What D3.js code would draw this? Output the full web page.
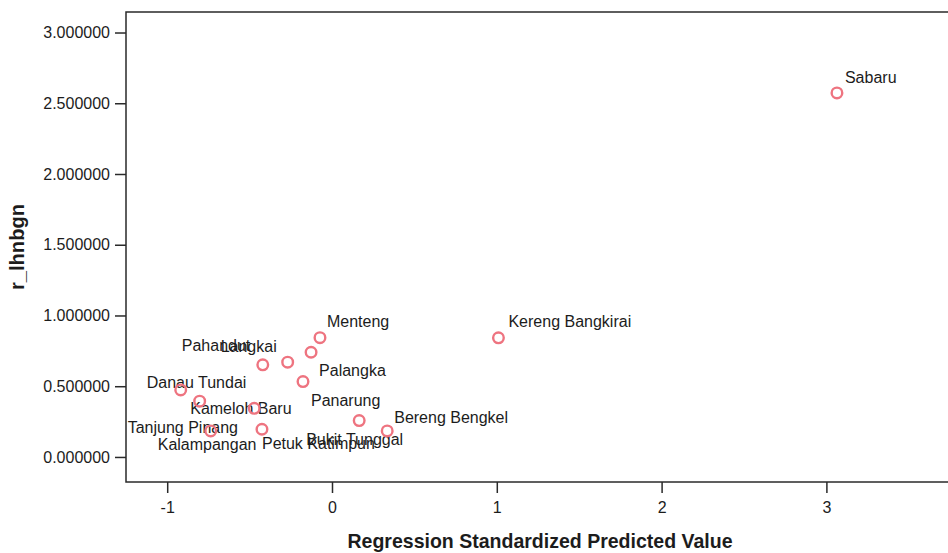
<!DOCTYPE html>
<html>
<head>
<meta charset="utf-8">
<script src="https://cdn.jsdelivr.net/npm/d3@7"></script>
<style>
  body { margin: 0; background: #fff; }
  svg { display: block; }
</style>
</head>
<body>
<svg id="chart" width="948" height="553"></svg>
<script>
// Sub-districts, their standardized predicted value and the r_lhnbgn residual
const places = [
  "Sabaru", "Kereng Bangkirai", "Menteng", "Palangka", "Langkai", "Pahandut", "Panarung",
  "Danau Tundai", "Tanjung Pinang", "Kameloh Baru", "Bukit Tunggal", "Bereng Bengkel",
  "Kalampangan", "Petuk Katimpun"
];
const predicted = [3.064, 1.010, -0.073, -0.127, -0.269, -0.420, -0.176,
                   -0.918, -0.803, -0.472, 0.165, 0.335, -0.736, -0.425];
const residual  = [2.573, 0.842, 0.843, 0.740, 0.670, 0.651, 0.533,
                   0.474, 0.394, 0.344, 0.257, 0.184, 0.184, 0.196];

const xTicks = [-1, 0, 1, 2, 3];
const yTicks = [0, 0.5, 1, 1.5, 2, 2.5, 3];
const xTitle = "Regression Standardized Predicted Value";
const yTitle = "r_lhnbgn";

// Where each point label sits relative to its marker (left edge, vertical centre)
const labelOffset = {
  "Sabaru": [8, -16], "Kereng Bangkirai": [10, -16], "Menteng": [7, -16],
  "Palangka": [8, 18], "Langkai": [-67, -16], "Pahandut": [-81, -19],
  "Panarung": [8, 19], "Danau Tundai": [-34, -7], "Tanjung Pinang": [-72, 26],
  "Kameloh Baru": [-64, 0], "Bukit Tunggal": [-53, 19], "Bereng Bengkel": [7, -14],
  "Kalampangan": [-53, 13], "Petuk Katimpun": [0, 14]
};

const points = places.map((name, i) => ({ name, x: predicted[i], y: residual[i] }));

const svg = d3.select("#chart");
const plot = { left: 126, right: 950, top: 12, bottom: 482 };
const FONT = "'Liberation Sans', Arial, Helvetica, sans-serif";
const TITLE_FONT = "'Liberation Sans Narrow', 'Arial Narrow', 'Liberation Sans', Arial, sans-serif";
const INK = "#1c1c1c";
const MARKER = "#ee7480";

const x = d3.scaleLinear().domain([-1.25, 3.75]).range([plot.left, plot.right]);
const y = d3.scaleLinear().domain([-0.177, 3.145]).range([plot.bottom, plot.top]);

// Plot frame
svg.append("rect")
  .attr("x", plot.left).attr("y", plot.top)
  .attr("width", plot.right - plot.left).attr("height", plot.bottom - plot.top)
  .attr("fill", "none").attr("stroke", "#2a2a2a").attr("stroke-width", 1.5);

// Y axis
const yAxis = svg.append("g")
  .attr("transform", `translate(${plot.left},0)`)
  .call(d3.axisLeft(y).tickValues(yTicks).tickFormat(d => d.toFixed(6))
    .tickSize(11).tickPadding(5).tickSizeOuter(0));
yAxis.select(".domain").remove();
yAxis.selectAll(".tick line").attr("stroke", "#2a2a2a").attr("stroke-width", 1.5);
yAxis.selectAll(".tick text")
  .attr("fill", INK).style("font-family", FONT).style("font-size", "16px");

// X axis (plain hyphen for negative values)
const xAxis = svg.append("g")
  .attr("transform", `translate(0,${plot.bottom})`)
  .call(d3.axisBottom(x).tickValues(xTicks).tickFormat(d => String(d))
    .tickSize(11).tickPadding(9).tickSizeOuter(0));
xAxis.select(".domain").remove();
xAxis.selectAll(".tick line").attr("stroke", "#2a2a2a").attr("stroke-width", 1.5);
xAxis.selectAll(".tick text")
  .attr("fill", INK).style("font-family", FONT).style("font-size", "16px");

// Axis titles
svg.append("text")
  .attr("x", (plot.left + plot.right) / 2 + 2).attr("y", 548)
  .attr("text-anchor", "middle")
  .attr("fill", INK)
  .style("font-family", TITLE_FONT).style("font-size", "21px").style("font-weight", "bold")
  .attr("textLength", 385).attr("lengthAdjust", "spacingAndGlyphs")
  .text(xTitle);

svg.append("text")
  .attr("transform", `translate(24,${(plot.top + plot.bottom) / 2}) rotate(-90)`)
  .attr("text-anchor", "middle")
  .attr("fill", INK)
  .style("font-family", TITLE_FONT).style("font-size", "21px").style("font-weight", "bold")
  .attr("textLength", 86).attr("lengthAdjust", "spacingAndGlyphs")
  .text(yTitle);

// Point labels
svg.append("g").selectAll("text")
  .data(points)
  .join("text")
  .attr("x", d => x(d.x) + labelOffset[d.name][0])
  .attr("y", d => y(d.y) + labelOffset[d.name][1])
  .attr("dy", "0.35em")
  .attr("fill", INK)
  .style("font-family", FONT).style("font-size", "16px")
  .text(d => d.name);

// Markers: hollow circles
svg.append("g").selectAll("circle")
  .data(points)
  .join("circle")
  .attr("cx", d => x(d.x))
  .attr("cy", d => y(d.y))
  .attr("r", 5.3)
  .attr("fill", "none")
  .attr("stroke", MARKER)
  .attr("stroke-width", 2.4);
</script>
</body>
</html>
